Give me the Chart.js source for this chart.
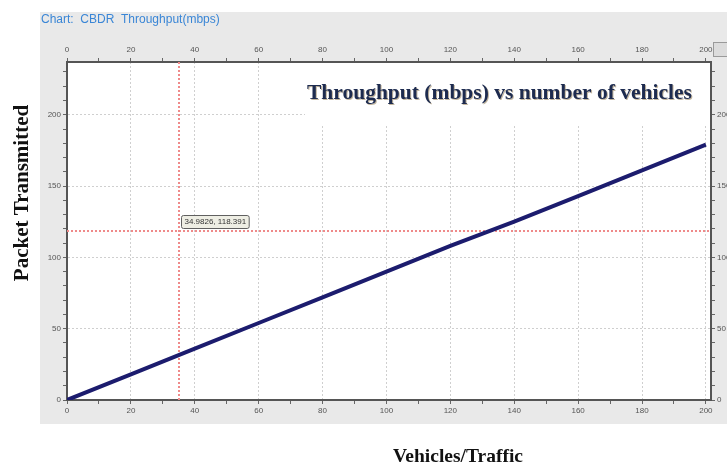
<!DOCTYPE html>
<html lang="en">
<head>
<meta charset="UTF-8">
<title>CBDR Throughput(mbps)</title>
<script src="https://cdn.jsdelivr.net/npm/chart.js"></script>
<style>
  body { margin: 0; background: #fff; }
  canvas { display: block; }
</style>
</head>
<body>
<canvas id="chart" width="727" height="463"></canvas>
<script>
// values
const vehicles = [0, 20, 40, 60, 80, 100, 120, 140, 160, 180, 200];
const throughput = [0, 18, 36, 54, 72, 90, 108, 125, 143, 161, 179];
const xTickValues = [0, 10, 20, 30, 40, 50, 60, 70, 80, 90, 100, 110, 120, 130, 140, 150, 160, 170, 180, 190, 200];
const yTickValues = [0, 10, 20, 30, 40, 50, 60, 70, 80, 90, 100, 110, 120, 130, 140, 150, 160, 170, 180, 190, 200, 210, 220, 230];
const xLabelStep = 20;
const yLabelStep = 50;
const cursorX = 34.9826;
const cursorY = 118.391;

const panelPlugin = {
    id: "panel",
    beforeDraw(chart) {
        const c = chart.ctx;
        const a = chart.chartArea;
        c.save();
        c.fillStyle = "#fff";
        c.fillRect(0, 0, chart.width, chart.height);
        c.fillStyle = "#e9e9e9";
        c.fillRect(40, 12, 687, 412);
        c.fillStyle = "#fff";
        c.fillRect(a.left, a.top, a.right - a.left, a.bottom - a.top);
        // header text
        c.font = "12px Arial, 'Liberation Sans'";
        c.fillStyle = "#3a86d6";
        c.textBaseline = "middle";
        c.fillText("Chart:  CBDR  Throughput(mbps)", 41, 20);
        // little button top right
        c.fillStyle = "#dcdcdc";
        c.strokeStyle = "#9a9a9a";
        c.fillRect(713.5, 42.5, 14, 14);
        c.strokeRect(713.5, 42.5, 14, 14);
        c.restore();
    },
    beforeDatasetsDraw(chart) {
        const c = chart.ctx;
        const x = chart.scales.x, y = chart.scales.y;
        const a = chart.chartArea;
        c.save();
        // white box behind the title
        c.fillStyle = "#fff";
        c.fillRect(305, a.top + 1, a.right - 306, 62);
        c.font = "bold 21.5px 'Liberation Serif', 'Times New Roman', serif";
        c.fillStyle = "#1d2b4f";
        c.textBaseline = "middle";
        c.shadowColor = "rgba(120,90,40,0.45)";
        c.shadowOffsetX = 1;
        c.shadowOffsetY = 1;
        c.fillText("Throughput (mbps) vs number of vehicles", 307, 93);
        c.restore();

        // crosshair cursor, dotted red
        const px = Math.round(x.getPixelForValue(cursorX));
        const py = Math.round(y.getPixelForValue(cursorY));
        c.save();
        c.fillStyle = "#ef8a8a";
        for (let yy = Math.ceil(a.top); yy < a.bottom; yy += 4) c.fillRect(px - 1, yy, 2, 2);
        for (let xx = Math.ceil(a.left); xx < a.right; xx += 4) c.fillRect(xx, py - 1, 2, 2);
        // value label
        const txt = cursorX + ", " + cursorY;
        c.font = "8px Arial, 'Liberation Sans'";
        const w = c.measureText(txt).width + 6;
        c.fillStyle = "#eeeee4";
        c.strokeStyle = "#606060";
        c.beginPath();
        c.roundRect(px + 2.5, py - 15.5, w, 13, 2);
        c.fill();
        c.stroke();
        c.fillStyle = "#333";
        c.textBaseline = "middle";
        c.fillText(txt, px + 5.5, py - 9);
        c.restore();
    },
    afterDraw(chart) {
        const c = chart.ctx;
        c.save();
        c.fillStyle = "#111";
        c.textAlign = "center";
        c.textBaseline = "middle";
        c.font = "bold 19.5px 'Liberation Serif', 'Times New Roman', serif";
        c.fillText("Vehicles/Traffic", 458, 457);
        c.translate(23, 193);
        c.rotate(-Math.PI / 2);
        c.font = "bold 21px 'Liberation Serif', 'Times New Roman', serif";
        c.fillText("Packet Transmitted", 0, 0);
        c.restore();
    }
};

function gridColor(step, max) {
    return function (ctx) {
        const v = ctx.tick ? ctx.tick.value : 0;
        if (v > 0 && v < max && v % step === 0) return "#cfcfcf";
        return "rgba(0,0,0,0)";
    };
}

const tickFont = { family: "Arial, 'Liberation Sans'", size: 8 };
const xMax = 201.6;
const yMax = 237;
const setXTicks = s => { s.ticks = xTickValues.map(v => ({ value: v })); };
const setYTicks = s => { s.ticks = yTickValues.map(v => ({ value: v })); };

const ctx = document.getElementById("chart").getContext("2d");
new Chart(ctx, {
    type: "line",
    data: {
        datasets: [{
            label: "Throughput",
            data: vehicles.map((v, i) => ({ x: v, y: throughput[i] })),
            borderColor: "#1c1c6e",
            borderWidth: 4,
            pointRadius: 0,
            fill: false
        }]
    },
    options: {
        responsive: false,
        animation: false,
        layout: { padding: { left: 40, top: 34, right: 0, bottom: 39 } },
        plugins: { legend: { display: false }, tooltip: { enabled: false } },
        scales: {
            x: {
                type: "linear", position: "bottom", min: 0, max: xMax,
                afterBuildTicks: setXTicks,
                afterFit: s => { s.height = 24; },
                ticks: {
                    autoSkip: false, maxRotation: 0, color: "#555", font: tickFont, padding: 2,
                    callback: v => (v % xLabelStep === 0 ? v : "")
                },
                grid: { color: gridColor(xLabelStep, 201), tickColor: "#666", tickLength: 4, tickBorderDash: [], tickWidth: 1 },
                border: { color: "#555", width: 2, dash: [2, 2] }
            },
            x2: {
                type: "linear", position: "top", min: 0, max: xMax,
                afterBuildTicks: setXTicks,
                afterFit: s => { s.height = 28; },
                ticks: {
                    autoSkip: false, maxRotation: 0, color: "#555", font: tickFont, padding: 3,
                    callback: v => (v % xLabelStep === 0 ? v : "")
                },
                grid: { drawOnChartArea: false, tickColor: "#666", tickLength: 4 },
                border: { color: "#555", width: 2 }
            },
            y: {
                type: "linear", position: "left", min: 0, max: yMax,
                afterBuildTicks: setYTicks,
                afterFit: s => { s.width = 27; },
                ticks: {
                    autoSkip: false, color: "#555", font: tickFont, padding: 2,
                    callback: v => (v % yLabelStep === 0 ? v : "")
                },
                grid: { color: gridColor(yLabelStep, yMax), tickColor: "#666", tickLength: 4, tickBorderDash: [] },
                border: { color: "#555", width: 2, dash: [2, 2] }
            },
            y2: {
                type: "linear", position: "right", min: 0, max: yMax,
                afterBuildTicks: setYTicks,
                afterFit: s => { s.width = 16; },
                ticks: {
                    autoSkip: false, color: "#555", font: tickFont, padding: 2,
                    callback: v => (v % yLabelStep === 0 ? v : "")
                },
                grid: { drawOnChartArea: false, tickColor: "#666", tickLength: 4 },
                border: { color: "#555", width: 2 }
            }
        }
    },
    plugins: [panelPlugin]
});
</script>
</body>
</html>
